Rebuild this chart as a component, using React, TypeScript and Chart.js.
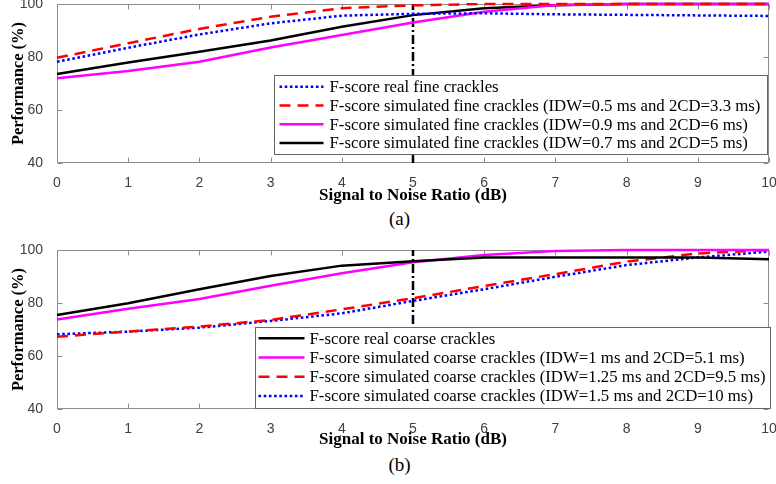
import React, { useEffect, useRef } from "react";
import { Chart, registerables } from "chart.js";
Chart.register(...registerables);

// ---------- data ----------
const snr = [0, 1, 2, 3, 4, 5, 6, 7, 8, 9, 10];
const fineReal = [78.2, 83.5, 88.5, 92.7, 95.6, 96.3, 96.5, 96.1, 95.9, 95.7, 95.5];
const fineSimA = [79.7, 85.2, 90.6, 95.2, 98.4, 99.5, 100, 100, 100, 100, 100];
const fineSimB = [72.0, 74.7, 78.2, 83.6, 88.3, 93.0, 97.1, 99.6, 100, 100, 100];
const fineSimC = [73.6, 77.9, 82.0, 86.2, 91.4, 95.8, 98.4, 99.5, 100, 100, 100];
const coarseReal = [75.5, 79.9, 85.2, 90.2, 94.1, 95.8, 97.2, 97.2, 97.2, 97.2, 96.5];
const coarseSimA = [73.8, 77.8, 81.5, 86.5, 91.2, 95.4, 98.1, 99.6, 100, 100, 100];
const coarseSimB = [67.3, 69.2, 71.1, 73.6, 77.6, 81.8, 86.4, 90.9, 95.6, 98.7, 100];
const coarseSimC = [68.2, 69.2, 70.7, 73.2, 76.1, 80.8, 85.2, 89.9, 94.3, 97.2, 99.4];
const markerSnr = 5;
const yMin = 40;
const yMax = 100;
const yStep = 20;
const xTitle = "Signal to Noise Ratio (dB)";
const yTitle = "Performance (%)";

const fineLabels = [
  "F-score real fine crackles",
  "F-score simulated fine crackles (IDW=0.5 ms and 2CD=3.3 ms)",
  "F-score simulated fine crackles (IDW=0.9 ms and 2CD=6 ms)",
  "F-score simulated fine crackles (IDW=0.7 ms and 2CD=5 ms)",
];
const coarseLabels = [
  "F-score real coarse crackles",
  "F-score simulated coarse crackles (IDW=1 ms and 2CD=5.1 ms)",
  "F-score simulated coarse crackles (IDW=1.25 ms and 2CD=9.5 ms)",
  "F-score simulated coarse crackles (IDW=1.5 ms and 2CD=10 ms)",
];

// ---------- styles ----------
const SERIF = '"Liberation Serif", "Times New Roman", serif';
const SANS = '"Liberation Sans", Arial, sans-serif';
const BLUE = "#0000ff";
const RED = "#ff0000";
const MAGENTA = "#ff00ff";
const BLACK = "#000000";
const DOT = [2.6, 2.6];
const DASH = [11, 7];
const DASHDOT = [9, 3, 2, 3];

type Series = { label: string; values: number[]; color: string; dash: number[] };

const toXY = (vals: number[]) => snr.map((x, i) => ({ x, y: vals[i] }));

const framePlugin = {
  id: "frame",
  beforeDatasetsDraw(chart: any) {
    const { ctx, chartArea: a, scales } = chart;
    ctx.save();
    ctx.strokeStyle = "#8c8c8c";
    ctx.lineWidth = 1;
    const L = Math.round(a.left) + 0.5;
    const R = Math.round(a.right) - 0.5;
    const T = Math.round(a.top) + 0.5;
    const B = Math.round(a.bottom) - 0.5;
    ctx.beginPath();
    ctx.rect(L, T, R - L, B - T);
    const tl = 5;
    scales.x.ticks.forEach((t: any) => {
      const px = Math.round(scales.x.getPixelForValue(t.value)) + 0.5;
      ctx.moveTo(px, B);
      ctx.lineTo(px, B - tl);
      ctx.moveTo(px, T);
      ctx.lineTo(px, T + tl);
    });
    scales.y.ticks.forEach((t: any) => {
      const py = Math.round(scales.y.getPixelForValue(t.value)) + 0.5;
      ctx.moveTo(L, py);
      ctx.lineTo(L + tl, py);
      ctx.moveTo(R, py);
      ctx.lineTo(R - tl, py);
    });
    ctx.stroke();
    ctx.restore();
  },
};

const boxLegendPlugin = {
  id: "boxLegend",
  afterDatasetsDraw(chart: any, _args: any, opts: any) {
    const { ctx, chartArea: a } = chart;
    const items = chart.data.datasets.filter((d: any) => !d.noLegend);
    ctx.save();
    ctx.font = `${opts.fontSize}px ${SERIF}`;
    let maxW = 0;
    items.forEach((d: any) => {
      maxW = Math.max(maxW, ctx.measureText(d.label).width);
    });
    const w = opts.padL + opts.sample + opts.gap + maxW + opts.padR;
    const h = opts.rowH * items.length + opts.padT + opts.padB;
    const right = a.right - opts.offRight;
    const bottom = a.bottom - opts.offBottom;
    const left = Math.round(right - w) + 0.5;
    const top = Math.round(bottom - h) + 0.5;
    ctx.fillStyle = "#ffffff";
    ctx.fillRect(left, top, right - left, bottom - top);
    ctx.strokeStyle = "#666666";
    ctx.lineWidth = 1;
    ctx.strokeRect(left, top, Math.round(right - left), Math.round(bottom - top));
    items.forEach((d: any, i: number) => {
      const cy = top + opts.padT + opts.rowH * (i + 0.5);
      const sx = left + opts.padL;
      ctx.save();
      ctx.strokeStyle = d.borderColor;
      ctx.lineWidth = d.borderWidth;
      ctx.setLineDash(d.borderDash || []);
      ctx.beginPath();
      ctx.moveTo(sx, cy);
      ctx.lineTo(sx + opts.sample, cy);
      ctx.stroke();
      ctx.restore();
      ctx.fillStyle = "#000000";
      ctx.textBaseline = "middle";
      ctx.textAlign = "left";
      ctx.fillText(d.label, sx + opts.sample + opts.gap, cy + 1);
    });
    ctx.restore();
  },
};

function makeConfig(series: Series[], padTop: number, xH: number, legendOpts: any) {
  const datasets: any[] = series.map((s) => ({
    label: s.label,
    data: toXY(s.values),
    borderColor: s.color,
    backgroundColor: s.color,
    borderDash: s.dash,
    borderWidth: 2.5,
    pointRadius: 0,
    tension: 0,
    clip: 4,
    borderCapStyle: "butt",
  }));
  datasets.push({
    label: "",
    noLegend: true,
    data: [
      { x: markerSnr, y: yMin },
      { x: markerSnr, y: yMax },
    ],
    borderColor: BLACK,
    borderDash: DASHDOT,
    borderWidth: 2.5,
    pointRadius: 0,
    clip: 0,
  });
  const tickFont = { family: SANS, size: 14 };
  return {
    type: "line" as const,
    data: { datasets },
    plugins: [framePlugin, boxLegendPlugin],
    options: {
      responsive: false,
      animation: false as const,
      layout: { padding: { top: padTop, right: 7, left: 0, bottom: 0 } },
      plugins: {
        legend: { display: false },
        tooltip: { enabled: false },
        boxLegend: legendOpts,
      },
      scales: {
        x: {
          type: "linear" as const,
          min: snr[0],
          max: snr[snr.length - 1],
          ticks: { stepSize: 1, font: tickFont, color: "#404040", padding: 4, maxRotation: 0, autoSkip: false },
          grid: { display: false },
          border: { display: false },
          title: {
            display: true,
            text: xTitle,
            font: { family: SERIF, size: 17, weight: "bold" as const },
            color: "#000",
            padding: { top: 0, bottom: 0 },
          },
          afterFit: (s: any) => {
            s.height = xH;
            s.paddingLeft = 0;
            s.paddingRight = 0;
          },
        },
        y: {
          type: "linear" as const,
          min: yMin,
          max: yMax,
          ticks: { stepSize: yStep, font: tickFont, color: "#404040", padding: 6 },
          grid: { display: false },
          border: { display: false },
          title: {
            display: true,
            text: yTitle,
            font: { family: SERIF, size: 16.5, weight: "bold" as const },
            color: "#000",
            padding: { top: 9, bottom: 0 },
          },
          afterFit: (s: any) => {
            s.width = 57;
            s.paddingTop = 0;
            s.paddingBottom = 0;
          },
        },
      },
    },
  };
}

function Panel({ series, top, height, padTop, xH, legendOpts }: any) {
  const ref = useRef<HTMLCanvasElement | null>(null);
  useEffect(() => {
    if (!ref.current) return;
    const chart = new Chart(ref.current, makeConfig(series, padTop, xH, legendOpts) as any);
    return () => chart.destroy();
  }, []);
  return (
    <canvas
      ref={ref}
      width={776}
      height={height}
      style={{ position: "absolute", left: 0, top, width: 776, height, display: "block" }}
    />
  );
}

const fineSeries: Series[] = [
  { label: fineLabels[0], values: fineReal, color: BLUE, dash: DOT },
  { label: fineLabels[1], values: fineSimA, color: RED, dash: DASH },
  { label: fineLabels[2], values: fineSimB, color: MAGENTA, dash: [] },
  { label: fineLabels[3], values: fineSimC, color: BLACK, dash: [] },
];
const coarseSeries: Series[] = [
  { label: coarseLabels[0], values: coarseReal, color: BLACK, dash: [] },
  { label: coarseLabels[1], values: coarseSimA, color: MAGENTA, dash: [] },
  { label: coarseLabels[2], values: coarseSimB, color: RED, dash: DASH },
  { label: coarseLabels[3], values: coarseSimC, color: BLUE, dash: DOT },
];

const capStyle: React.CSSProperties = {
  position: "absolute",
  transform: "translate(-50%, -50%)",
  fontFamily: SERIF,
  fontSize: 19,
  lineHeight: 1,
  color: "#000",
  whiteSpace: "nowrap",
};

export default function App() {
  return (
    <div style={{ position: "absolute", left: 0, top: 0, width: 776, height: 484, background: "#fff", overflow: "hidden" }}>
      <Panel
        series={fineSeries}
        top={0}
        height={206}
        padTop={4}
        xH={43}
        legendOpts={{ fontSize: 16.8, rowH: 18.7, padT: 2, padB: 2, padL: 5, sample: 44, gap: 6, padR: 7, offRight: 2, offBottom: 9 }}
      />
      <div style={{ ...capStyle, left: 399.5, top: 218 }}>(a)</div>
      <Panel
        series={coarseSeries}
        top={240}
        height={210}
        padTop={10}
        xH={41}
        legendOpts={{ fontSize: 16.8, rowH: 19.3, padT: 1, padB: 3, padL: 3, sample: 46, gap: 5, padR: 5, offRight: -1, offBottom: 1 }}
      />
      <div style={{ ...capStyle, left: 399.5, top: 464 }}>(b)</div>
    </div>
  );
}
